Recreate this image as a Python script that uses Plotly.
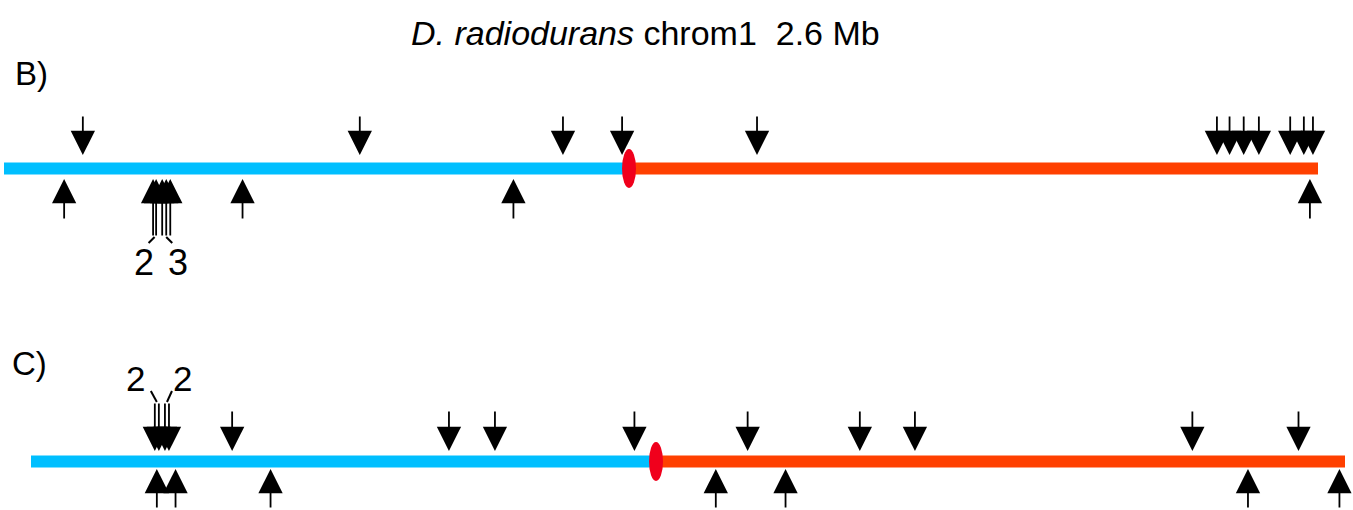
import plotly.graph_objects as go

# ---------------- data (positions in Mb along the 2.6 Mb chromosome) ----------------
genome_mb = 2.6
origin_mb = 1.2367

b_down = [0.156, 0.704, 1.106, 1.223, 1.490, 2.400, 2.425, 2.453, 2.483, 2.545, 2.572, 2.590]
b_up = [0.119, 0.472, 1.008, 2.584]
b_cluster_left = [0.295, 0.301]          # labelled "2"
b_cluster_right = [0.313, 0.321, 0.329]  # labelled "3"
b_cluster_labels = ["2", "3"]

c_down = [0.398, 0.827, 0.918, 1.194, 1.418, 1.640, 1.749, 2.298, 2.508]
c_up = [0.249, 0.286, 0.474, 1.355, 1.493, 2.408, 2.589]
c_cluster_left = [0.245, 0.253]   # labelled "2"
c_cluster_right = [0.265, 0.273]  # labelled "2"
c_cluster_labels = ["2", "2"]

title_html = "<i>D. radiodurans</i> chrom1&nbsp;&nbsp;2.6 Mb"
panel_labels = ["B)", "C)"]

# ---------------- styling / layout constants ----------------
W, H = 1353, 510
MB_PER_PX = genome_mb / 1314.0
BLUE = "#00bfff"
ORANGE = "#ff4000"
ORI_RED = "#f0001c"
FONT = "Liberation Sans, Arial, sans-serif"

panels = {
    "B": dict(xref="x", x0px=4, line_y=168.5,
              down_tail=115, down_tip=155, up_tip=179, up_tail=220),
    "C": dict(xref="x2", x0px=31, line_y=461.5,
              down_tail=410, down_tip=451, up_tip=469, up_tail=509),
}

fig = go.Figure()
annotations = []
shapes = []


def arrow(xref, x, tail, tip):
    return dict(x=x, y=tip, ax=x, ay=tail, xref=xref, yref="y", axref=xref, ayref="y",
                text="", showarrow=True, arrowhead=2, arrowsize=2.7, arrowwidth=1.8,
                arrowcolor="black", standoff=0)


def add_panel(key, downs, ups):
    p = panels[key]
    xa = "x" if p["xref"] == "x" else "x2"
    fig.add_trace(go.Scatter(x=[0, origin_mb], y=[p["line_y"]] * 2, mode="lines",
                             line=dict(color=BLUE, width=12), xaxis=xa, yaxis="y",
                             hoverinfo="skip", showlegend=False))
    fig.add_trace(go.Scatter(x=[origin_mb, genome_mb], y=[p["line_y"]] * 2, mode="lines",
                             line=dict(color=ORANGE, width=12), xaxis=xa, yaxis="y",
                             hoverinfo="skip", showlegend=False))
    for m in downs:
        annotations.append(arrow(p["xref"], m, p["down_tail"], p["down_tip"]))
    for m in ups:
        annotations.append(arrow(p["xref"], m, p["up_tail"], p["up_tip"]))
    shapes.append(dict(type="circle", xref=p["xref"], yref="y",
                       xsizemode="pixel", ysizemode="pixel",
                       xanchor=origin_mb, yanchor=p["line_y"],
                       x0=-7, x1=7, y0=-19.5, y1=19.5,
                       fillcolor=ORI_RED, line=dict(width=0)))


add_panel("B", b_down, b_up)
add_panel("C", c_down, c_up)

# ---- B cluster (up arrows with longer shafts and bracketed counts) ----
pB = panels["B"]
b_shaft_end = 237
for m in b_cluster_left + b_cluster_right:
    annotations.append(arrow("x", m, b_shaft_end, pB["up_tip"]))
gl = sum(b_cluster_left) / len(b_cluster_left)
gr = sum(b_cluster_right) / len(b_cluster_right)
fig.add_trace(go.Scatter(x=[gl, gl - 6 * MB_PER_PX], y=[b_shaft_end, 243], mode="lines",
                         line=dict(color="black", width=2), xaxis="x", yaxis="y",
                         hoverinfo="skip", showlegend=False))
fig.add_trace(go.Scatter(x=[gr, gr + 6 * MB_PER_PX], y=[b_shaft_end, 243], mode="lines",
                         line=dict(color="black", width=2), xaxis="x", yaxis="y",
                         hoverinfo="skip", showlegend=False))
for lab, xm in zip(b_cluster_labels, [gl - 11 * MB_PER_PX, gr + 12 * MB_PER_PX]):
    annotations.append(dict(x=xm, y=262, xref="x", yref="y", text=lab, showarrow=False,
                            xanchor="center", yanchor="middle",
                            font=dict(family=FONT, size=36, color="black")))

# ---- C cluster (down arrows with longer shafts and bracketed counts) ----
pC = panels["C"]
c_shaft_end = 402
for m in c_cluster_left + c_cluster_right:
    annotations.append(arrow("x2", m, c_shaft_end, pC["down_tip"]))
cl = sum(c_cluster_left) / len(c_cluster_left)
cr = sum(c_cluster_right) / len(c_cluster_right)
fig.add_trace(go.Scatter(x=[cl, cl - 6 * MB_PER_PX], y=[c_shaft_end, 391], mode="lines",
                         line=dict(color="black", width=2), xaxis="x2", yaxis="y",
                         hoverinfo="skip", showlegend=False))
fig.add_trace(go.Scatter(x=[cr, cr + 5 * MB_PER_PX], y=[c_shaft_end, 391], mode="lines",
                         line=dict(color="black", width=2), xaxis="x2", yaxis="y",
                         hoverinfo="skip", showlegend=False))
for lab, xm in zip(c_cluster_labels, [cl - 21 * MB_PER_PX, cr + 16 * MB_PER_PX]):
    annotations.append(dict(x=xm, y=378, xref="x2", yref="y", text=lab, showarrow=False,
                            xanchor="center", yanchor="middle",
                            font=dict(family=FONT, size=35, color="black")))

# ---- texts ----
annotations.append(dict(x=409 / W, y=33, xref="paper", yref="y", text=title_html,
                        showarrow=False, xanchor="left", yanchor="middle",
                        font=dict(family=FONT, size=34, color="black")))
annotations.append(dict(x=13 / W, y=73, xref="paper", yref="y", text=panel_labels[0],
                        showarrow=False, xanchor="left", yanchor="middle",
                        font=dict(family=FONT, size=33, color="black")))
annotations.append(dict(x=10 / W, y=363, xref="paper", yref="y", text=panel_labels[1],
                        showarrow=False, xanchor="left", yanchor="middle",
                        font=dict(family=FONT, size=33, color="black")))

axis_off = dict(showgrid=False, zeroline=False, showticklabels=False, showline=False,
                ticks="", fixedrange=True)
fig.update_layout(
    width=W, height=H,
    margin=dict(l=0, r=0, t=0, b=0, pad=0),
    paper_bgcolor="white", plot_bgcolor="rgba(0,0,0,0)",
    xaxis=dict(domain=[panels["B"]["x0px"] / W, (panels["B"]["x0px"] + 1314) / W],
               range=[0, genome_mb], anchor="y", **axis_off),
    xaxis2=dict(domain=[panels["C"]["x0px"] / W, (panels["C"]["x0px"] + 1314) / W],
                range=[0, genome_mb], anchor="y", **axis_off),
    yaxis=dict(domain=[0, 1], range=[H, 0], **axis_off),
    annotations=annotations,
    shapes=shapes,
    showlegend=False,
)

fig.write_html("out.html", config={"displayModeBar": False},
               post_script="document.body.style.margin='0';document.body.style.overflow='hidden';")
